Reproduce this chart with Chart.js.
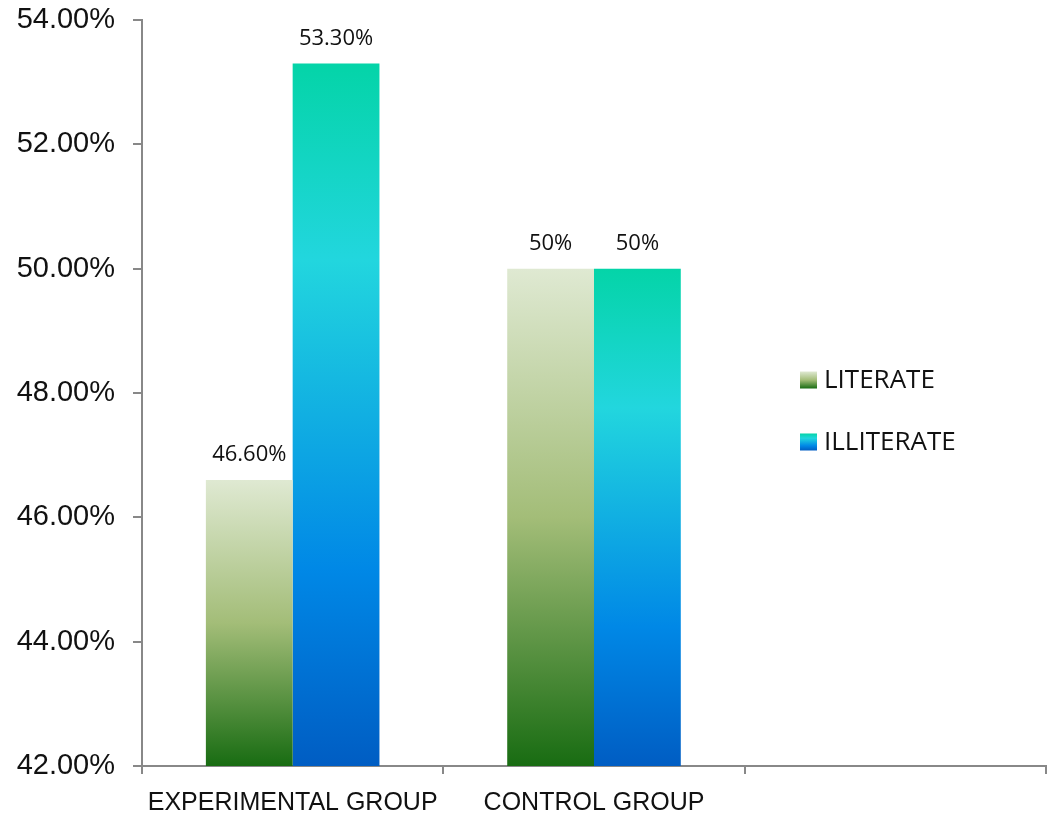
<!DOCTYPE html>
<html>
<head>
<meta charset="utf-8">
<script src="https://cdn.jsdelivr.net/npm/chart.js@4"></script>
<style>
  html, body { margin: 0; padding: 0; background: #fff; }
  #wrap { width: 1048px; height: 819px; position: relative; }
</style>
</head>
<body>
<div id="wrap"><canvas id="chart"></canvas></div>
<script>
const categories = ['EXPERIMENTAL GROUP', 'CONTROL GROUP', ''];
const literate = [46.6, 50, null];
const illiterate = [53.3, 50, null];
const literateLabels = ['46.60%', '50%', ''];
const illiterateLabels = ['53.30%', '50%', ''];
const seriesNames = ['LITERATE', 'ILLITERATE'];

const greenStops = [[0, '#dfe9d2'], [0.5, '#a3bd78'], [1, '#186c12']];
const blueStops = [[0, '#04d4a8'], [0.28, '#22d6de'], [0.72, '#0088e6'], [1, '#005dc3']];

function makeGradient(ctx, top, bottom, stops) {
    const g = ctx.createLinearGradient(0, top, 0, bottom);
    stops.forEach(s => g.addColorStop(s[0], s[1]));
    return g;
}

function barFill(stops) {
    return function (context) {
        const chart = context.chart;
        if (!chart.chartArea || context.raw == null) return stops[0][1];
        const top = chart.scales.y.getPixelForValue(context.raw);
        return makeGradient(chart.ctx, top, chart.chartArea.bottom, stops);
    };
}

const valueLabelPlugin = {
    id: 'valueLabels',
    afterDatasetsDraw(chart) {
        const ctx = chart.ctx;
        const texts = [literateLabels, illiterateLabels];
        ctx.save();
        ctx.font = '22px "Open Sans", sans-serif';
        ctx.fillStyle = '#111';
        ctx.textAlign = 'center';
        ctx.textBaseline = 'middle';
        chart.data.datasets.forEach((ds, i) => {
            chart.getDatasetMeta(i).data.forEach((bar, j) => {
                if (ds.data[j] == null) return;
                ctx.fillText(texts[i][j], bar.x, bar.y - 25);
            });
        });
        ctx.restore();
    }
};

const insideLegendPlugin = {
    id: 'insideLegend',
    afterDraw(chart) {
        const ctx = chart.ctx;
        const allStops = [greenStops, blueStops];
        const x = 800, ys = [380, 442], box = 17;
        ctx.save();
        ctx.font = '26px "Open Sans", sans-serif';
        ctx.textBaseline = 'middle';
        seriesNames.forEach((name, i) => {
            const y = ys[i];
            ctx.fillStyle = makeGradient(ctx, y - box / 2, y + box / 2, allStops[i]);
            ctx.fillRect(x, y - box / 2, box, box);
            ctx.fillStyle = '#111';
            ctx.fillText(name, x + 24, y + 1);
        });
        ctx.restore();
    }
};

new Chart(document.getElementById('chart'), {
    type: 'bar',
    data: {
        labels: categories,
        datasets: [
            { label: seriesNames[0], data: literate, backgroundColor: barFill(greenStops) },
            { label: seriesNames[1], data: illiterate, backgroundColor: barFill(blueStops) }
        ]
    },
    options: {
        responsive: true,
        maintainAspectRatio: false,
        animation: false,
        layout: { padding: { top: 20, right: 2, left: 0, bottom: 0 } },
        categoryPercentage: 0.576,
        barPercentage: 1,
        plugins: {
            legend: { display: false },
            tooltip: { enabled: false }
        },
        scales: {
            x: {
                grid: { drawOnChartArea: false, color: '#888', lineWidth: 2, tickLength: 8, offset: true },
                border: { color: '#888', width: 2 },
                ticks: {
                    color: '#111',
                    font: { family: '"Liberation Sans", Arial', size: 25 },
                    padding: 14,
                    maxRotation: 0
                },
                afterFit: s => { s.height = 53; s.paddingLeft = 0; s.paddingRight = 0; }
            },
            y: {
                min: 42,
                max: 54,
                grid: { drawOnChartArea: false, color: '#888', lineWidth: 2, tickLength: 9 },
                border: { color: '#888', width: 2 },
                ticks: {
                    stepSize: 2,
                    color: '#111',
                    font: { family: '"Liberation Sans", Arial', size: 29 },
                    padding: 18,
                    callback: v => v.toFixed(2) + '%'
                },
                afterFit: s => { s.width = 142; s.paddingTop = 0; s.paddingBottom = 0; }
            }
        }
    },
    plugins: [valueLabelPlugin, insideLegendPlugin]
});
</script>
</body>
</html>
